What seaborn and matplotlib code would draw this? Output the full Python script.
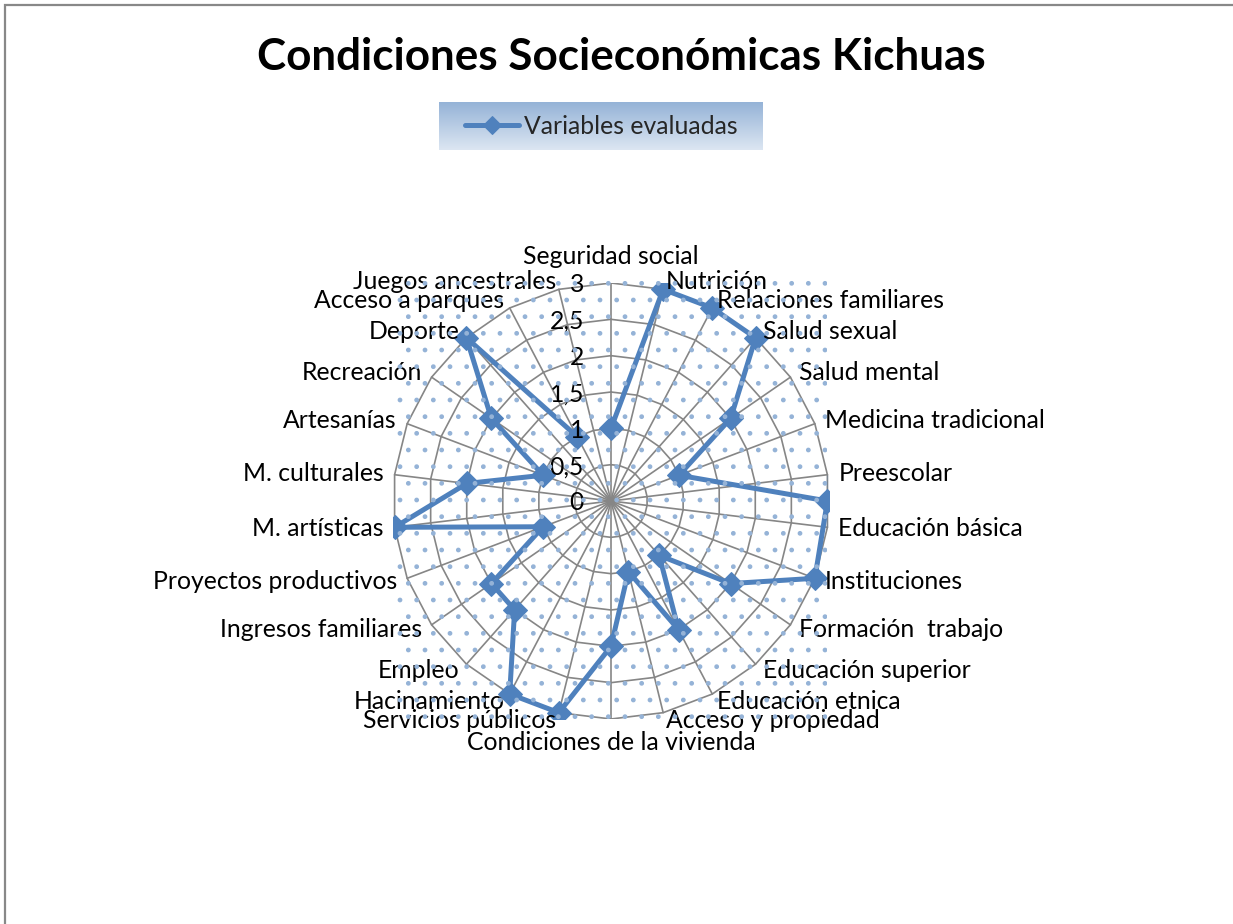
import numpy as np
import pandas as pd
import matplotlib
matplotlib.use("Agg")
import matplotlib.pyplot as plt
from matplotlib.patches import Rectangle
import seaborn as sns

categorias = ["Seguridad social", "Nutrición", "Relaciones familiares", "Salud sexual",
              "Salud mental", "Medicina tradicional", "Preescolar", "Educación básica",
              "Instituciones", "Formación  trabajo", "Educación superior", "Educación etnica",
              "Acceso y propiedad", "Condiciones de la vivienda", "Servicios públicos",
              "Hacinamiento", "Empleo", "Ingresos familiares", "Proyectos productivos",
              "M. artísticas", "M. culturales", "Artesanías", "Recreación", "Deporte",
              "Acceso a parques", "Juegos ancestrales"]
valores = [1, 3, 3, 3, 2, 1, 3, 3, 3, 2, 1, 2, 1, 2, 3, 3, 2, 2, 1, 3, 2, 1, 2, 3, 1, np.nan]
niveles = [0, 0.5, 1, 1.5, 2, 2.5, 3]
etiquetas_niveles = ["0", "0,5", "1", "1,5", "2", "2,5", "3"]
serie = "Variables evaluadas"

azul = "#4f81bd"
gris = "#868686"
fs = 17.8

sns.set_theme(style="white")
plt.rcParams["font.family"] = ["Lato", "DejaVu Sans"]
plt.rcParams["hatch.linewidth"] = 1.0

n = len(categorias)
theta = np.arange(n) * 2 * np.pi / n
rmax = niveles[-1]

# radar: ángulo en sentido horario desde arriba
df = pd.DataFrame({"cat": categorias, "valor": valores, "theta": theta})
df["x"] = df["valor"] * np.sin(df["theta"])
df["y"] = df["valor"] * np.cos(df["theta"])
df = df.dropna()

fig = plt.figure(figsize=(12.33, 9.24), dpi=100)

# marco del gráfico
fig.patches.append(Rectangle((5 / 1233, -0.01), 1.1, 1 - 5 / 924 + 0.01,
                             transform=fig.transFigure, fill=False,
                             edgecolor="#888888", linewidth=1.6, zorder=0))
# fondo punteado del área de trazado
fig.patches.append(Rectangle((397 / 1233, (924 - 724) / 924), 430 / 1233, 452 / 924,
                             transform=fig.transFigure, facecolor="none",
                             edgecolor="#95b3d7", linewidth=0, hatch=".", zorder=0))

cx, cy, R = 611, 501, 218
ax = fig.add_axes([(cx - R) / 1233, (924 - cy - R) / 924, 2 * R / 1233, 2 * R / 924])
ax.set_facecolor("none")
ax.set_xlim(-rmax, rmax)
ax.set_ylim(-rmax, rmax)
ax.set_axis_off()

# radios y anillos poligonales
for t in theta:
    ax.plot([0, rmax * np.sin(t)], [0, rmax * np.cos(t)], color=gris, linewidth=1.2, zorder=1)
cerrado = np.append(theta, theta[0])
for r in niveles[1:]:
    ax.plot(r * np.sin(cerrado), r * np.cos(cerrado), color=gris, linewidth=1.2, zorder=1)

sns.lineplot(data=df, x="x", y="y", sort=False, ax=ax, color=azul,
             linewidth=3.6, marker="D", markersize=12, markeredgecolor=azul,
             label=serie, zorder=3, legend=False)
ax.set_xlabel("")
ax.set_ylabel("")

for r, lbl in zip(niveles, etiquetas_niveles):
    ax.annotate(lbl, xy=(0, r), xytext=(-27, -2), textcoords="offset pixels",
                ha="right", va="center", fontsize=fs, color="black", zorder=4)

for t, lbl in zip(theta, categorias):
    s, c = np.sin(t), np.cos(t)
    if abs(s) < 0.05:
        off = (0, 27 if c > 0 else -24)
        ha = "center"
    else:
        off = (11 * s, 8 * c)
        ha = "left" if s > 0 else "right"
    ax.annotate(lbl, xy=(rmax * s, rmax * c), xytext=off, textcoords="offset pixels",
                ha=ha, va="center", fontsize=fs, color="black",
                annotation_clip=False)

fig.text(621 / 1233, 1 - 57 / 924, "Condiciones Socieconómicas Kichuas",
         ha="center", va="center", fontsize=31.7, fontweight="bold", color="black")

# leyenda con degradado
lax = fig.add_axes([439 / 1233, (924 - 150) / 924, 324 / 1233, 48 / 924])
grad = np.linspace(0, 1, 64).reshape(-1, 1)
cmap = matplotlib.colors.LinearSegmentedColormap.from_list("g", ["#95b3d7", "#dce6f2"])
lax.imshow(grad, aspect="auto", cmap=cmap, extent=[0, 1, 0, 1])
lax.set_axis_off()
handles, labels = ax.get_legend_handles_labels()
lax.legend(handles, labels, loc="center", frameon=False, fontsize=fs,
           handlelength=2.2, handletextpad=0.2, borderaxespad=0, markerscale=0.8)

fig.savefig("out.png", dpi=100)
